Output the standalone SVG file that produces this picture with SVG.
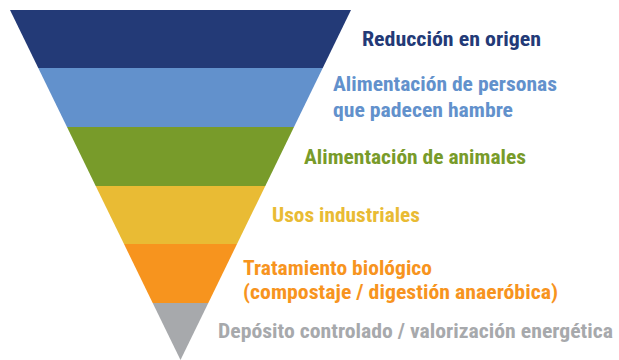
<svg xmlns="http://www.w3.org/2000/svg" width="619" height="360" viewBox="0 0 619 360">
<style>
text{font-family:"Liberation Sans Narrow","Roboto Condensed","Roboto","Liberation Sans",sans-serif;font-weight:bold;font-size:21px}
.c1{fill:#233a77}.c2{fill:#6291cc}.c3{fill:#789b2a}.c4{fill:#e9bb34}.c5{fill:#f7941e}.c6{fill:#a7a9ac}
</style>
<rect width="619" height="360" fill="#ffffff"/>
<g id="level1">
<polygon class="c1" points="10,10 351,10 322.75,68 38.25,68"/>
<text class="c1" x="362" y="46" textLength="179" lengthAdjust="spacingAndGlyphs">Reducción en origen</text>
</g>
<g id="level2">
<polygon class="c2" points="38.25,68 322.75,68 294,127 67,127"/>
<text class="c2" x="333" y="91" textLength="224" lengthAdjust="spacingAndGlyphs">Alimentación de personas</text>
<text class="c2" x="333" y="117" textLength="180" lengthAdjust="spacingAndGlyphs">que padecen hambre</text>
</g>
<g id="level3">
<polygon class="c3" points="67,127 294,127 265.3,186 95.7,186"/>
<text class="c3" x="304" y="164" textLength="222" lengthAdjust="spacingAndGlyphs">Alimentación de animales</text>
</g>
<g id="level4">
<polygon class="c4" points="95.7,186 265.3,186 237,244 124,244"/>
<text class="c4" x="272" y="222" textLength="148" lengthAdjust="spacingAndGlyphs">Usos industriales</text>
</g>
<g id="level5">
<polygon class="c5" points="124,244 237,244 208.3,303 152.7,303"/>
<text class="c5" x="243" y="275" textLength="189" lengthAdjust="spacingAndGlyphs">Tratamiento biológico</text>
<text class="c5" x="243" y="299" textLength="315" lengthAdjust="spacingAndGlyphs">(compostaje / digestión anaeróbica)</text>
</g>
<g id="level6">
<polygon class="c6" points="152.7,303 208.3,303 180.5,360"/>
<text class="c6" x="218" y="338" textLength="395" lengthAdjust="spacingAndGlyphs">Depósito controlado / valorización energética</text>
</g>
<g id="connectors"></g>
</svg>
